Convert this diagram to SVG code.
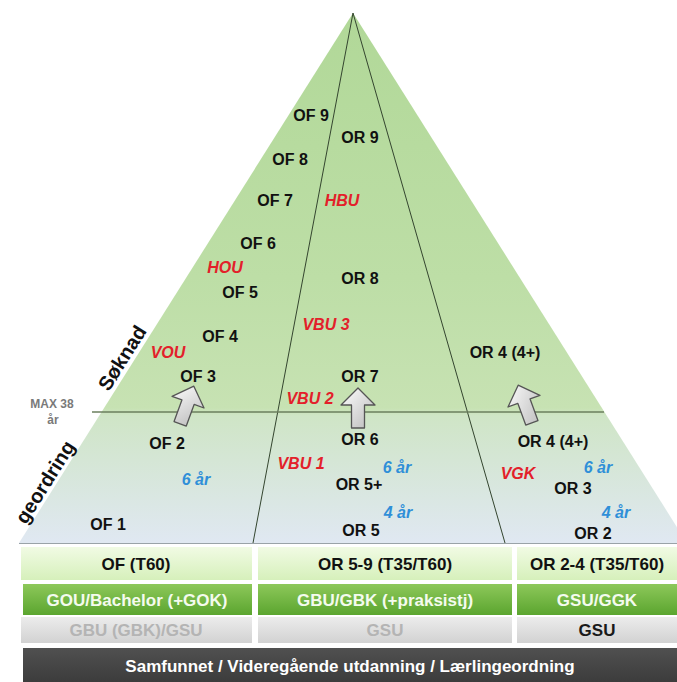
<svg xmlns="http://www.w3.org/2000/svg" width="677" height="682" viewBox="0 0 677 682">
<defs>
<linearGradient id="pg" x1="0" y1="13" x2="0" y2="543" gradientUnits="userSpaceOnUse">
<stop offset="0" stop-color="#b1d898"/>
<stop offset="0.5" stop-color="#bddea6"/>
<stop offset="0.745" stop-color="#c7e2b3"/>
<stop offset="0.76" stop-color="#cfe5c6"/>
<stop offset="1" stop-color="#e0e8f2"/>
</linearGradient>
<linearGradient id="r1" x1="0" y1="0" x2="0" y2="1">
<stop offset="0" stop-color="#f1fbe4"/>
<stop offset="1" stop-color="#d6f0bb"/>
</linearGradient>
<linearGradient id="r2" x1="0" y1="0" x2="0" y2="1">
<stop offset="0" stop-color="#8dc85a"/>
<stop offset="1" stop-color="#5ba52f"/>
</linearGradient>
<linearGradient id="r3" x1="0" y1="0" x2="0" y2="1">
<stop offset="0" stop-color="#ececec"/>
<stop offset="1" stop-color="#d2d2d2"/>
</linearGradient>
<linearGradient id="r4" x1="0" y1="0" x2="0" y2="1">
<stop offset="0" stop-color="#505050"/>
<stop offset="1" stop-color="#3c3c3c"/>
</linearGradient>
<linearGradient id="ag" x1="0" y1="0" x2="1" y2="1">
<stop offset="0" stop-color="#ffffff"/>
<stop offset="1" stop-color="#b9b9b9"/>
</linearGradient>
<path id="arrow" d="M0,-20 L17,-3 L6.5,-3 L6.5,20 L-6.5,20 L-6.5,-3 L-17,-3 Z"/>
</defs>
<style>
text{font-family:"Liberation Sans",Arial,sans-serif;font-weight:bold;text-anchor:middle}
.k{font-size:16px;fill:#111}
.r{font-size:16px;fill:#e3202a;font-style:italic}
.b{font-size:16px;fill:#2f8fd8;font-style:italic}
.side{font-size:20px;fill:#111}
.max{font-size:12px;fill:#7a7a7a}
.t1{font-size:17px;fill:#111}
.t2{font-size:17px;fill:#f4fbee}
.t3{font-size:17px;fill:#b4b4b4}
.t3d{font-size:17px;fill:#1a1a1a}
.t4{font-size:17px;fill:#ffffff}
.div{stroke:#34452f;stroke-width:1;fill:none}
.arr{fill:url(#ag);stroke:#555;stroke-width:1.3;stroke-linejoin:round}
</style>
<rect width="677" height="682" fill="#ffffff"/>
<g id="pyramid">
<polygon points="353,13 19,543 687,543" fill="url(#pg)"/>
<line x1="19" y1="543.5" x2="677" y2="543.5" stroke="#9aa3a8" stroke-width="1"/>
</g>
<g id="connectors">
<line class="div" x1="353" y1="13" x2="253" y2="543"/>
<line class="div" x1="353" y1="13" x2="505" y2="543"/>
<line x1="92" y1="412" x2="604" y2="412" stroke="#6b7f5e" stroke-width="1.5"/>
<use href="#arrow" class="arr" transform="translate(187,405) rotate(20)"/>
<use href="#arrow" class="arr" transform="translate(358,408)"/>
<use href="#arrow" class="arr" transform="translate(525,404) rotate(-20)"/>
</g>
<g id="side-labels">
<text class="side" transform="translate(122,358) rotate(-57.8)" y="7">Søknad</text>
<text class="side" transform="translate(45,482) rotate(-57.8)" y="7">geordring</text>
<text class="max" x="52" y="408">MAX 38</text>
<text class="max" x="53" y="424">år</text>
</g>
<g id="of-col">
<text class="k" x="311" y="121">OF 9</text>
<text class="k" x="290" y="165">OF 8</text>
<text class="k" x="275" y="206">OF 7</text>
<text class="k" x="258" y="249">OF 6</text>
<text class="r" x="225" y="273">HOU</text>
<text class="k" x="240" y="298">OF 5</text>
<text class="k" x="220" y="342">OF 4</text>
<text class="r" x="168" y="358">VOU</text>
<text class="k" x="198" y="382">OF 3</text>
<text class="k" x="167" y="449">OF 2</text>
<text class="b" x="196" y="485">6 år</text>
<text class="k" x="108" y="530">OF 1</text>
</g>
<g id="or-mid">
<text class="k" x="360" y="143">OR 9</text>
<text class="r" x="342" y="206">HBU</text>
<text class="k" x="360" y="284">OR 8</text>
<text class="r" x="326" y="330">VBU 3</text>
<text class="k" x="360" y="382">OR 7</text>
<text class="r" x="310" y="404">VBU 2</text>
<text class="k" x="360" y="445">OR 6</text>
<text class="r" x="301" y="469">VBU 1</text>
<text class="b" x="397" y="473">6 år</text>
<text class="k" x="359" y="490">OR 5+</text>
<text class="b" x="398" y="518">4 år</text>
<text class="k" x="361" y="536">OR 5</text>
</g>
<g id="or-right">
<text class="k" x="505" y="358">OR 4 (4+)</text>
<text class="k" x="553" y="447">OR 4 (4+)</text>
<text class="b" x="598" y="473">6 år</text>
<text class="r" x="518" y="479">VGK</text>
<text class="k" x="573" y="494">OR 3</text>
<text class="b" x="616" y="518">4 år</text>
<text class="k" x="593" y="539">OR 2</text>
</g>
<g id="row-level">
<rect x="21" y="547" width="231" height="33" fill="url(#r1)"/>
<rect x="258" y="547" width="254" height="33" fill="url(#r1)"/>
<rect x="517" y="547" width="160" height="33" fill="url(#r1)"/>
<text class="t1" x="136" y="570">OF (T60)</text>
<text class="t1" x="385" y="570">OR 5-9 (T35/T60)</text>
<text class="t1" x="597" y="570">OR 2-4 (T35/T60)</text>
</g>
<g id="row-education">
<rect x="23" y="584" width="229" height="31" fill="url(#r2)"/>
<rect x="258" y="584" width="254" height="31" fill="url(#r2)"/>
<rect x="517" y="584" width="160" height="31" fill="url(#r2)"/>
<text class="t2" x="137" y="606">GOU/Bachelor (+GOK)</text>
<text class="t2" x="385" y="606">GBU/GBK (+praksistj)</text>
<text class="t2" x="597" y="606">GSU/GGK</text>
</g>
<g id="row-base">
<rect x="21" y="617" width="231" height="26" fill="url(#r3)"/>
<rect x="258" y="617" width="254" height="26" fill="url(#r3)"/>
<rect x="517" y="617" width="160" height="26" fill="url(#r3)"/>
<text class="t3" x="136" y="636">GBU (GBK)/GSU</text>
<text class="t3" x="385" y="636">GSU</text>
<text class="t3d" x="597" y="636">GSU</text>
</g>
<g id="society">
<rect x="23" y="648" width="654" height="34" fill="url(#r4)"/>
<text class="t4" x="350" y="672">Samfunnet / Videregående utdanning / Lærlingeordning</text>
</g>
</svg>
